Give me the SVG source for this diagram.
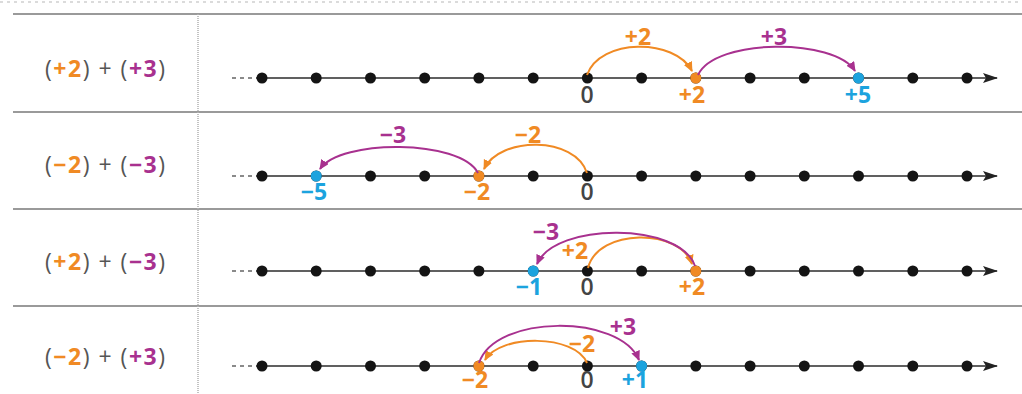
<svg xmlns="http://www.w3.org/2000/svg" width="1022" height="394" viewBox="0 0 1022 394">
<style>
.sep{stroke:#9a9a9a;stroke-width:2;fill:none}
.vsep{stroke:#b0b0b0;stroke-width:1.5;stroke-dasharray:1 1;fill:none}
.axis{stroke:#606060;stroke-width:2;fill:none}
.dash{stroke:#8a8a8a;stroke-width:2;stroke-dasharray:4 4;fill:none}
.dot{fill:#141414}
.o{fill:#F08A24}
.p{fill:#A8318F}
.b{fill:#1CA3DE}
.arcO{stroke:#F08A24;stroke-width:2;fill:none;marker-end:url(#ahO)}
.arcP{stroke:#A8318F;stroke-width:2;fill:none;marker-end:url(#ahP)}
.num{font-family:"Open Sans","Liberation Sans",sans-serif;font-size:23px;font-weight:700;text-anchor:middle}
.zero{fill:#444;font-weight:600}
.lbl{font-family:"Open Sans","Liberation Sans",sans-serif;font-size:23px;fill:#555;text-anchor:middle}
.lbl .o,.lbl .p{font-weight:700}
</style>
<defs>
<marker id="ahO" markerUnits="userSpaceOnUse" markerWidth="11" markerHeight="10" refX="9" refY="4.5" orient="auto"><path d="M0,0 L10,4.5 L0,9 Z" fill="#F08A24"/></marker>
<marker id="ahP" markerUnits="userSpaceOnUse" markerWidth="11" markerHeight="10" refX="9" refY="4.5" orient="auto"><path d="M0,0 L10,4.5 L0,9 Z" fill="#A8318F"/></marker>
<marker id="ahAxis" markerUnits="userSpaceOnUse" markerWidth="16" markerHeight="12" refX="14" refY="5" orient="auto"><path d="M0,0 L15,5 L0,10 L3,5 Z" fill="#222"/></marker>
<g id="dots">
<circle class="dot" cx="262" cy="0" r="5.5"/><circle class="dot" cx="316.2" cy="0" r="5.5"/><circle class="dot" cx="370.5" cy="0" r="5.5"/><circle class="dot" cx="424.7" cy="0" r="5.5"/><circle class="dot" cx="478.9" cy="0" r="5.5"/><circle class="dot" cx="533.2" cy="0" r="5.5"/><circle class="dot" cx="587.4" cy="0" r="5.5"/><circle class="dot" cx="641.6" cy="0" r="5.5"/><circle class="dot" cx="695.8" cy="0" r="5.5"/><circle class="dot" cx="750.1" cy="0" r="5.5"/><circle class="dot" cx="804.3" cy="0" r="5.5"/><circle class="dot" cx="858.5" cy="0" r="5.5"/><circle class="dot" cx="912.8" cy="0" r="5.5"/><circle class="dot" cx="967" cy="0" r="5.5"/>
</g>
<g id="axisline">
<path class="dash" d="M232,0 H256"/>
<path class="axis" d="M256,0 H997" marker-end="url(#ahAxis)"/>
</g>
</defs>

<g id="frame">
<path d="M0,2 H1022" stroke="#cfcfcf" stroke-width="1.5" stroke-dasharray="3 4" fill="none"/>
<path class="sep" d="M13,14 H1022"/>
<path class="sep" d="M13,112 H1022"/>
<path class="sep" d="M13,209 H1022"/>
<path class="sep" d="M13,306 H1022"/>
<path class="vsep" d="M198,14 V394"/>
</g>

<g id="row1">
<text class="lbl" x="105" y="77" textLength="120" lengthAdjust="spacing">(<tspan class="o">+2</tspan>) + (<tspan class="p">+3</tspan>)</text>
<use href="#axisline" y="78"/>
<use href="#dots" y="78"/>
<circle class="o" cx="695.8" cy="78" r="5.5"/>
<circle class="b" cx="858.5" cy="78" r="5.5"/>
<text class="num zero" x="587" y="103">0</text>
<text class="num o" x="692" y="103">+2</text>
<text class="num b" x="858" y="103">+5</text>
<text class="num o" x="638" y="45">+2</text>
<text class="num p" x="774" y="45">+3</text>
</g>

<g id="row2">
<text class="lbl" x="105" y="173" textLength="120" lengthAdjust="spacing">(<tspan class="o">−2</tspan>) + (<tspan class="p">−3</tspan>)</text>
<use href="#axisline" y="176"/>
<use href="#dots" y="176"/>
<circle class="o" cx="478.9" cy="176" r="5.5"/>
<circle class="b" cx="316.2" cy="176" r="5.5"/>
<text class="num zero" x="587" y="200">0</text>
<text class="num o" x="477" y="200">−2</text>
<text class="num b" x="314" y="200">−5</text>
<text class="num o" x="528" y="143">−2</text>
<text class="num p" x="393" y="143">−3</text>
</g>

<g id="row3">
<text class="lbl" x="105" y="270" textLength="120" lengthAdjust="spacing">(<tspan class="o">+2</tspan>) + (<tspan class="p">−3</tspan>)</text>
<use href="#axisline" y="271"/>
<use href="#dots" y="271"/>
<circle class="o" cx="695.8" cy="271" r="5.5"/>
<circle class="b" cx="533.2" cy="271" r="5.5"/>
<text class="num zero" x="587" y="295">0</text>
<text class="num o" x="692" y="295">+2</text>
<text class="num b" x="529" y="295">−1</text>
<text class="num p" x="546" y="240">−3</text>
<text class="num o" x="575" y="259">+2</text>
</g>

<g id="row4">
<text class="lbl" x="105" y="365" textLength="120" lengthAdjust="spacing">(<tspan class="o">−2</tspan>) + (<tspan class="p">+3</tspan>)</text>
<use href="#axisline" y="366"/>
<use href="#dots" y="366"/>
<circle class="o" cx="478.9" cy="366" r="5.5"/>
<circle class="b" cx="641.6" cy="366" r="5.5"/>
<text class="num zero" x="587" y="388" font-size="22">0</text>
<text class="num o" x="475" y="388" font-size="22">−2</text>
<text class="num b" x="635" y="388" font-size="22">+1</text>
<text class="num p" x="623" y="335">+3</text>
<text class="num o" x="582" y="352">−2</text>
</g>

<g id="connectors">
<path class="arcO" d="M587,75 C600,38 675,38 692,71"/>
<path class="arcP" d="M698,75 C715,38 835,38 855,71"/>
<path class="arcO" d="M587,173 C575,136 500,136 484,169"/>
<path class="arcP" d="M478,173 C460,139 340,139 320,169"/>
<path class="arcO" d="M588,268 C598,228 680,228 692,264"/>
<path class="arcP" d="M695,266 C680,222 555,222 537,264"/>
<path class="arcO" d="M587,363 C575,334 500,334 485,360"/>
<path class="arcP" d="M479,363 C495,314 620,314 639,360"/>
</g>
</svg>
